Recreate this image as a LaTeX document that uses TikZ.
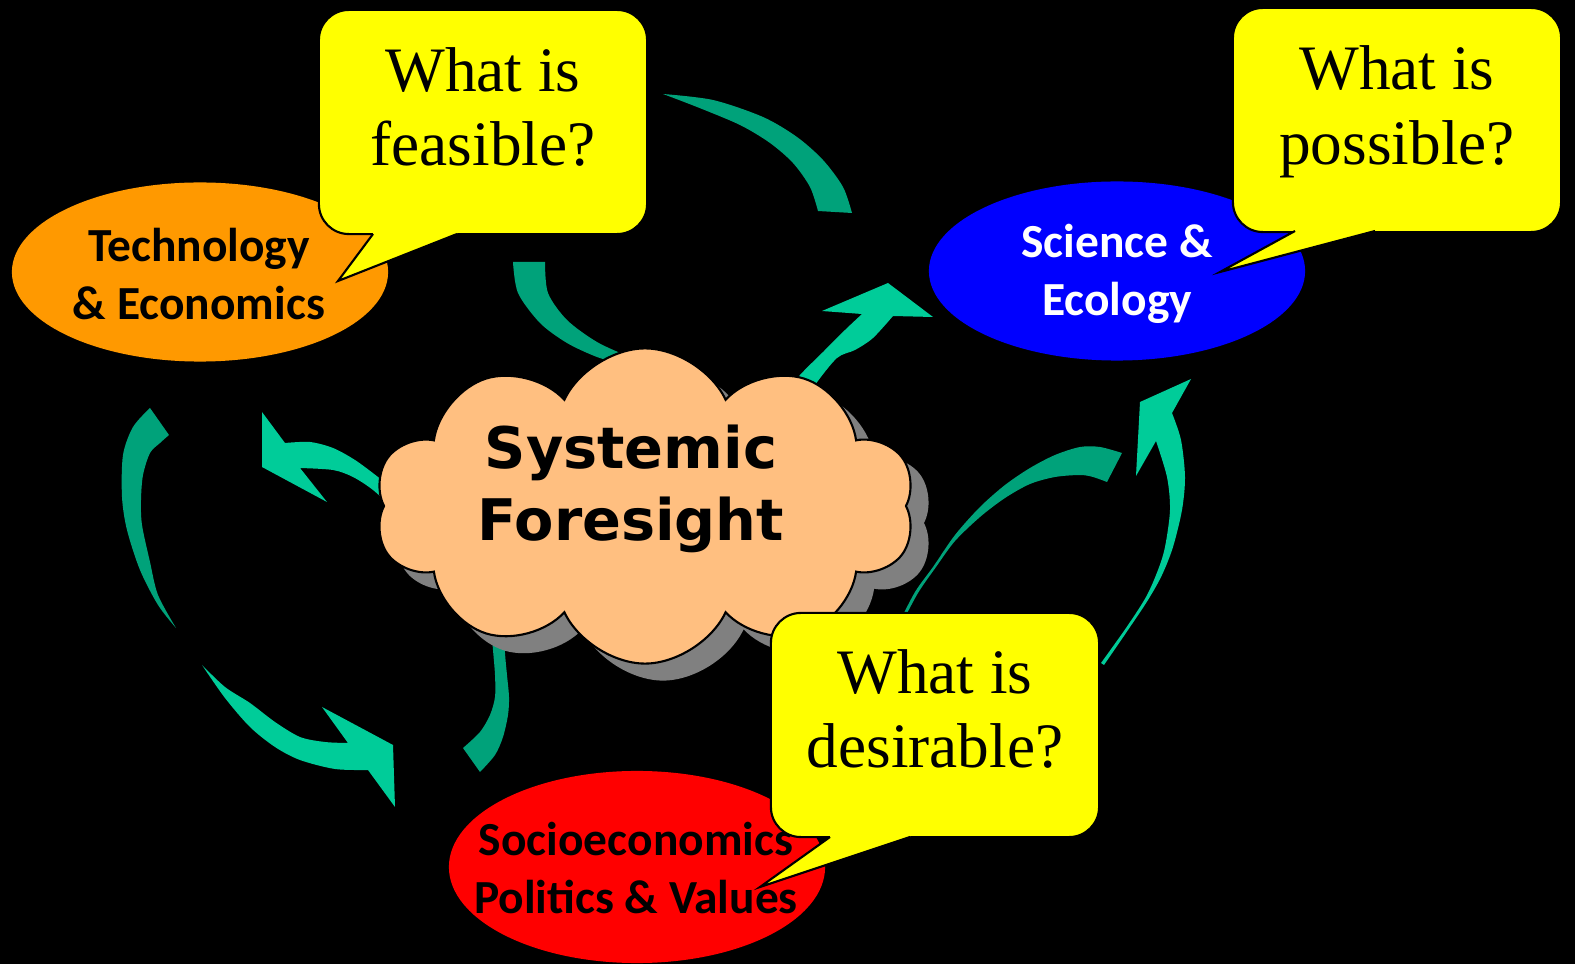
\documentclass[tikz,border=0pt]{standalone}
\usepackage{fontspec}
\usepackage{tikz}
\setmainfont{Liberation Serif}
\newfontfamily\topicfont{Carlito}
\newfontfamily\cloudfont{DejaVu Sans}
\definecolor{tealdark}{RGB}{0,162,122}
\definecolor{tealbright}{RGB}{0,204,153}
\definecolor{sfpeach}{RGB}{255,191,128}
\definecolor{techorange}{RGB}{255,153,0}
\definecolor{noteyellow}{RGB}{255,255,0}
\usetikzlibrary{shapes.geometric,shapes.symbols}

\begin{document}
\begin{tikzpicture}[
    x=0.01cm, y=-0.01cm,
    topic/.style={ellipse, minimum width=3.76cm, minimum height=1.79cm},
    topictext/.style={align=center, font=\topicfont\bfseries\fontsize{13.5}{16.6}\selectfont},
    bubble/.style={rectangle, draw, fill=noteyellow, line width=0.6pt, rounded corners=0.3cm, minimum width=3.28cm, minimum height=2.24cm},
    ask/.style={align=center, font=\fontsize{18}{21.3}\selectfont},
    puffs/.style={cloud, cloud puffs=10, cloud puff arc=130, aspect=1.7, minimum width=5.4cm, minimum height=3.15cm},
    tailband/.style={fill=tealdark},
    headband/.style={fill=tealbright}
]
    % Background
    \useasboundingbox (0,0) rectangle (1575,964);
    \fill[black] (0,0) rectangle (1575,964);

    % Arrows (block arrows, partly hidden)
    \fill[tailband] plot[smooth] coordinates {(663,94) (713,100) (763,117) (797,137) (823,160) (843,187) (852,213)}
        -- plot[smooth] coordinates {(818,211) (810,187) (793,163) (770,143) (740,125) (697,107) (663,94)} -- cycle;
    \fill[tailband] plot[smooth] coordinates {(513,262) (518,293) (540,323) (567,343) (597,357) (627,366) (660,380) (690,395)}
        -- plot[smooth] coordinates {(705,378) (657,367) (630,357) (597,342) (567,320) (548,293) (545,262)} -- cycle;
    \fill[headband] plot[smooth] coordinates {(780,400) (800,375) (823,352) (845,330) (862,314)}
        -- (822,311) -- (888,283) -- (933,317)
        -- plot[smooth] coordinates {(893,316) (873,338) (855,350) (837,358) (815,385) (800,410)} -- cycle;
    \fill[headband] (262,412) -- plot[smooth] coordinates {(285,443) (310,442) (333,448) (355,460) (378,477) (400,495)}
        -- plot[smooth] coordinates {(395,510) (373,490) (353,477) (333,470) (300,468)}
        -- (327,502) -- (262,467) -- cycle;
    \fill[tailband] plot[smooth] coordinates {(150,408) (133,427) (123,455) (122,497) (127,530) (140,570) (158,605) (176,628)}
        -- plot[smooth] coordinates {(176,628) (158,595) (150,562) (142,525) (141,500) (143,475) (150,453) (160,443) (169,435)} -- cycle;
    \fill[headband] plot[smooth] coordinates {(202,665) (225,687) (250,703) (275,722) (300,737) (325,742) (348,743)}
        -- (322,707) -- (393,745) -- (395,807)
        -- plot[smooth] coordinates {(368,770) (335,769) (300,760) (275,747) (250,727) (225,698) (202,665)} -- cycle;
    \fill[tailband] plot[smooth] coordinates {(490,615) (493,650) (495,675) (495,697) (490,715) (480,732) (463,748)}
        -- plot[smooth] coordinates {(480,772) (495,755) (503,737) (508,715) (509,697) (507,675) (505,653) (503,615)} -- cycle;
    \fill[tailband] plot[smooth] coordinates {(898,625) (915,592) (933,567) (955,535) (980,507) (1005,485) (1030,468) (1055,455) (1080,447) (1100,447) (1122,453)}
        -- plot[smooth] coordinates {(1107,482) (1093,477) (1080,475) (1055,477) (1030,484) (1005,498) (980,517) (955,541) (936,567) (918,593) (901,625)} -- cycle;
    \fill[headband] (1191,379) -- plot[smooth] coordinates {(1172,413) (1181,440) (1185,477) (1182,510) (1173,547) (1162,575) (1148,600) (1128,630) (1104,665)}
        -- plot[smooth] coordinates {(1101,663) (1126,628) (1146,597) (1158,570) (1165,547) (1170,510) (1167,477) (1156,441)}
        -- (1136,476) -- (1140,402) -- cycle;

    % Topics
    \node[topic, fill=techorange] (tech) at (200,272) {};
    \node[topictext] (techlabel) at (199,274) {Technology\\\& Economics};
    \node[topic, fill=blue] (sci) at (1117,271) {};
    \node[topictext, text=white] (scilabel) at (1117,274) {Science \&\\Ecology};
    \node[topic, fill=red, minimum height=1.92cm] (soc) at (637,867) {};
    \node[topictext] (soclabel) at (636,868) {Socioeconomics\\Politics \& Values};

    % Systemic Foresight
    \node[puffs, fill=gray] (sfshadow) at (663,523) {};
    \node[puffs, fill=sfpeach, draw, line width=0.6pt] (sf) at (645,506) {};
    \node[align=center, font=\cloudfont\bfseries\fontsize{16.3}{20.7}\selectfont] (sflabel) at (631,489) {Systemic\\Foresight};

    % Questions
    \node[bubble] (fea) at (483,122) {};
    \fill[noteyellow] (373,228) -- (373,234) -- (338,281) -- (457,234) -- (457,228) -- cycle;
    \draw[line width=0.6pt] (373,234) -- (338,281) -- (457,234);
    \node[ask] (fealabel) at (483,107) {What is\\feasible?};

    \node[bubble] (pos) at (1397,120) {};
    \fill[noteyellow] (1295,225) -- (1295,231) -- (1220,272) -- (1375,231) -- (1375,225) -- cycle;
    \draw[line width=0.6pt] (1295,231) -- (1220,272) -- (1375,231);
    \node[ask] (poslabel) at (1397,112) {What is\\possible?};

    \node[bubble] (des) at (935,725) {};
    \fill[noteyellow] (830,831) -- (830,837) -- (760,887) -- (910,837) -- (910,831) -- cycle;
    \draw[line width=0.6pt] (830,837) -- (760,887) -- (910,837);
    \node[ask] (deslabel) at (935,709) {What is\\desirable?};
\end{tikzpicture}
\end{document}
